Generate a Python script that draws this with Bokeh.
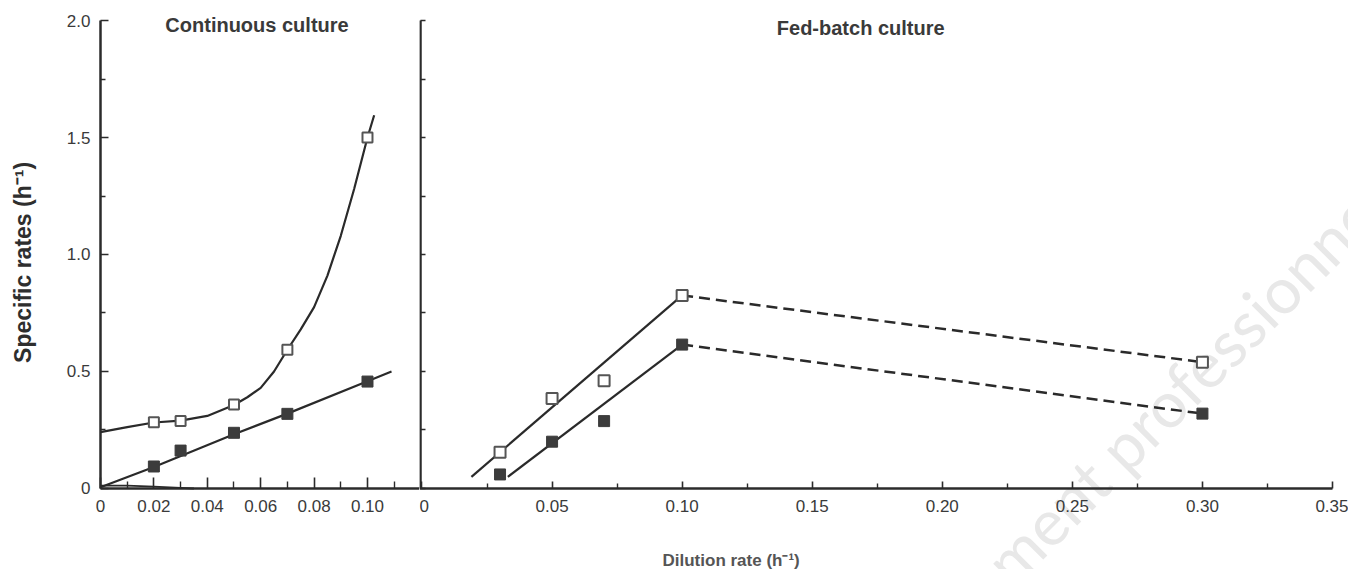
import math
from bokeh.plotting import figure
from bokeh.layouts import row
from bokeh.models import Range1d, FixedTicker, PrintfTickFormatter, Label
from bokeh.embed import file_html
from bokeh.resources import INLINE

# ---------------- data ----------------
# Continuous culture (left panel)
cont_x = [0.02, 0.03, 0.05, 0.07, 0.10]
cont_open_y = [0.283, 0.288, 0.359, 0.593, 1.50]
cont_filled_y = [0.094, 0.162, 0.238, 0.319, 0.457]

cont_open_curve_x = [0, 0.01, 0.02, 0.03, 0.04, 0.05, 0.055, 0.06, 0.065, 0.07,
                     0.075, 0.08, 0.085, 0.09, 0.095, 0.10, 0.1025]
cont_open_curve_y = [0.241, 0.262, 0.282, 0.290, 0.310, 0.357, 0.39, 0.43, 0.50, 0.593,
                     0.68, 0.775, 0.91, 1.08, 1.28, 1.50, 1.595]
cont_filled_fit_x = [0, 0.02, 0.05, 0.07, 0.10, 0.109]
cont_filled_fit_y = [0.005, 0.092, 0.232, 0.32, 0.458, 0.50]
cont_base_x = [0, 0.01, 0.02, 0.03, 0.035]
cont_base_y = [0.012, 0.012, 0.008, 0.003, 0.0]

# Fed-batch culture (right panel)
fed_x = [0.03, 0.05, 0.07, 0.10, 0.30]
fed_open_y = [0.155, 0.385, 0.46, 0.825, 0.54]
fed_filled_y = [0.06, 0.20, 0.288, 0.615, 0.32]
fed_open_solid_x = [0.019, 0.10]
fed_open_solid_y = [0.05, 0.825]
fed_open_dash_x = [0.10, 0.30]
fed_open_dash_y = [0.825, 0.54]
fed_filled_solid_x = [0.033, 0.10]
fed_filled_solid_y = [0.05, 0.615]
fed_filled_dash_x = [0.10, 0.30]
fed_filled_dash_y = [0.615, 0.32]

# ticks
left_x_major = [0, 0.02, 0.04, 0.06, 0.08, 0.10]
left_x_minor = [0.01, 0.03, 0.05, 0.07, 0.09, 0.11]
right_x_major = [0, 0.05, 0.10, 0.15, 0.20, 0.25, 0.30, 0.35]
right_x_minor = [0.025, 0.075, 0.125, 0.175, 0.225, 0.275, 0.325]
left_y_major = [0, 0.5, 1.0, 1.5, 2.0]
left_y_minor = [0.25, 0.75, 1.25, 1.75]
right_y_major = [0, 0.25, 0.5, 0.75, 1.0, 1.25, 1.5, 1.75, 2.0]

AX = "#2b2b2b"
LINE = "#2a2a2a"
TICKFONT = "Liberation Sans"
Y0, Y1 = -0.3462, 2.0855

def style_common(p):
    p.outline_line_color = None
    p.xgrid.visible = False
    p.ygrid.visible = False
    p.background_fill_color = "white"
    p.border_fill_color = "white"
    for ax in p.axis:
        ax.axis_line_color = AX
        ax.axis_line_width = 2.5
        ax.major_tick_line_color = AX
        ax.minor_tick_line_color = AX
        ax.major_tick_line_width = 1.6
        ax.minor_tick_line_width = 1.4
        ax.major_tick_out = 0
        ax.minor_tick_out = 0
        ax.major_label_text_font = TICKFONT
        ax.major_label_text_font_size = "17px"
        ax.major_label_text_color = "#3a3a3a"

# ---------------- left panel ----------------
p1 = figure(width=419, height=569, x_range=Range1d(-0.03745, 0.11948), y_range=Range1d(Y0, Y1),
            output_backend="svg", toolbar_location=None, min_border=0,
            min_border_left=0, min_border_right=0, min_border_top=0, min_border_bottom=0)
style_common(p1)
p1.xaxis.fixed_location = 0
p1.xaxis.bounds = (0, 0.11948)
p1.xaxis.ticker = FixedTicker(ticks=left_x_major, minor_ticks=left_x_minor)
p1.xaxis.formatter = PrintfTickFormatter(format="%.2f")
p1.xaxis.major_label_overrides = {0: "0"}
p1.xaxis.major_tick_in = 11
p1.xaxis.minor_tick_in = 7
p1.xaxis.major_label_standoff = 12
p1.yaxis.fixed_location = 0
p1.yaxis.bounds = (0, 2.0)
p1.yaxis.ticker = FixedTicker(ticks=left_y_major, minor_ticks=left_y_minor)
p1.yaxis.formatter = PrintfTickFormatter(format="%.1f")
p1.yaxis.major_label_overrides = {0: "0"}
p1.yaxis.major_tick_in = 8
p1.yaxis.minor_tick_in = 5
p1.yaxis.major_label_standoff = 10

p1.line(cont_open_curve_x, cont_open_curve_y, line_color=LINE, line_width=2.2)
p1.line(cont_filled_fit_x, cont_filled_fit_y, line_color=LINE, line_width=2.2)
p1.line(cont_base_x, cont_base_y, line_color=LINE, line_width=1.8)
p1.scatter(cont_x, cont_open_y, marker="square", size=10, fill_color="white",
           line_color="#555555", line_width=2)
p1.scatter(cont_x, cont_filled_y, marker="square", size=11, fill_color="#3c3c3c",
           line_color="#3c3c3c")
p1.add_layout(Label(x=0.0607, y=1.979, text="Continuous   culture", text_align="center",
                    text_baseline="alphabetic", text_font="Liberation Sans",
                    text_font_style="bold", text_font_size="20px", text_color="#3a3a3a"))
p1.add_layout(Label(x=-0.0292, y=0.966, text="Specific rates (h⁻¹)", angle=math.pi / 2,
                    text_align="center", text_baseline="middle", text_font="Liberation Sans",
                    text_font_style="bold", text_font_size="23px", text_color="#2e2e2e"))

# ---------------- right panel ----------------
p2 = figure(width=929, height=569, x_range=Range1d(-0.00096, 0.35615), y_range=Range1d(Y0, Y1),
            output_backend="svg", toolbar_location=None, min_border=0,
            min_border_left=0, min_border_right=0, min_border_top=0, min_border_bottom=0)
style_common(p2)
p2.xaxis.fixed_location = 0
p2.xaxis.bounds = (-0.00096, 0.35)
p2.xaxis.ticker = FixedTicker(ticks=right_x_major, minor_ticks=right_x_minor)
p2.xaxis.formatter = PrintfTickFormatter(format="%.2f")
p2.xaxis.major_label_overrides = {0: "0"}
p2.xaxis.major_tick_in = 7
p2.xaxis.minor_tick_in = 5
p2.xaxis.major_label_standoff = 12
p2.yaxis.fixed_location = -0.0005
p2.yaxis.bounds = (0, 2.0)
p2.yaxis.ticker = FixedTicker(ticks=right_y_major, minor_ticks=[])
p2.yaxis.major_tick_in = 5
p2.yaxis.major_label_standoff = 0
p2.yaxis.major_label_text_font_size = "0px"
p2.yaxis.major_label_text_alpha = 0

p2.add_layout(Label(x=0.2205, y=-0.359, text="ment professionnel", angle=0.785,
                    text_font="Lato", text_font_size="64px", text_color="#e8e8e8",
                    text_baseline="alphabetic", text_align="left", level="underlay"))

p2.line(fed_open_solid_x, fed_open_solid_y, line_color=LINE, line_width=2.2)
p2.line(fed_filled_solid_x, fed_filled_solid_y, line_color=LINE, line_width=2.2)
p2.line(fed_open_dash_x, fed_open_dash_y, line_color=LINE, line_width=2.5, line_dash="11 6")
p2.line(fed_filled_dash_x, fed_filled_dash_y, line_color=LINE, line_width=2.5, line_dash="11 6")
p2.scatter(fed_x, fed_open_y, marker="square", size=11, fill_color="white",
           line_color="#555555", line_width=2)
p2.scatter(fed_x, fed_filled_y, marker="square", size=11, fill_color="#3c3c3c",
           line_color="#3c3c3c")
p2.add_layout(Label(x=0.1697, y=1.97, text="Fed-batch  culture", text_align="center",
                    text_baseline="alphabetic", text_font="Liberation Sans",
                    text_font_style="bold", text_font_size="20px", text_color="#3a3a3a"))
p2.add_layout(Label(x=0.09245, y=-0.3077, text="Dilution rate (h⁻¹)", text_align="left",
                    text_baseline="alphabetic", text_font="Liberation Sans",
                    text_font_style="bold", text_font_size="17px", text_color="#555555"))

layout = row(p1, p2)
open("out.html", "w").write(file_html(layout, INLINE))
